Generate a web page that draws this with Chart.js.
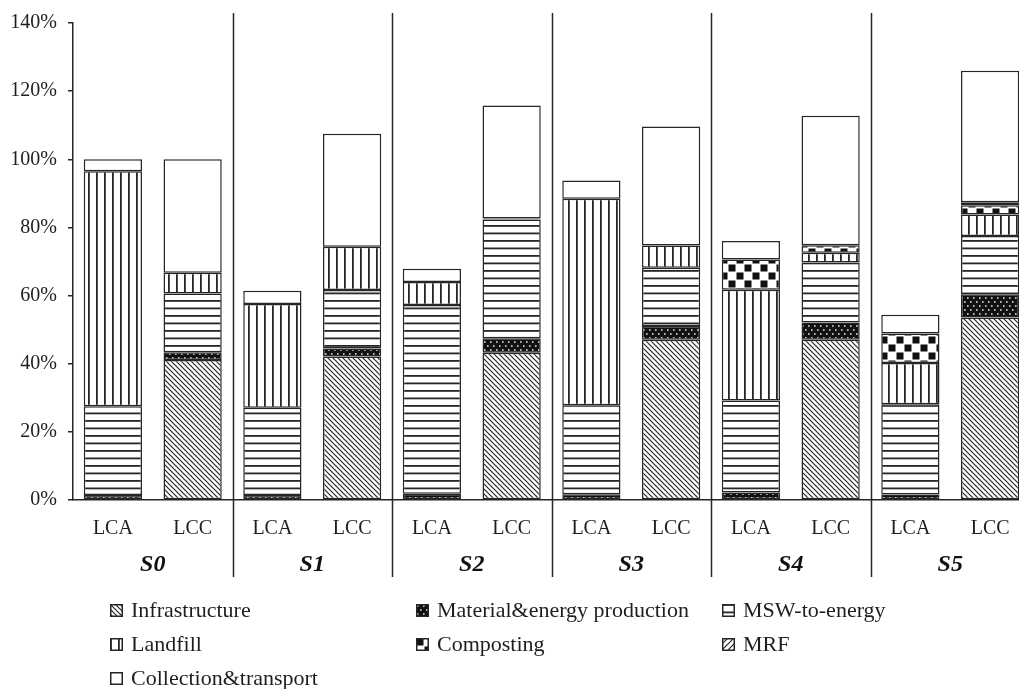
<!DOCTYPE html>
<html>
<head>
<meta charset="utf-8">
<title>LCA / LCC by scenario</title>
<script src="https://cdn.jsdelivr.net/npm/chart.js@4.4.1/dist/chart.umd.min.js"></script>
<style>
  html, body { margin: 0; padding: 0; background: #fff; overflow: hidden; }
  #wrap { position: absolute; left: 0; top: 0; width: 1030px; height: 689px; }
  .leg { position: absolute; display: flex; align-items: center; height: 24px;
         font: 22px "Liberation Serif", "Times New Roman", serif; color: #1e1e1e; white-space: nowrap; }
  .leg canvas { margin-right: 8px; }
</style>
</head>
<body>
<div id="wrap"><canvas id="chart" width="1030" height="689"></canvas></div>
<div id="legend"></div>
<script>
// ── Data (values in % of S0) ──
const categories = ['LCA', 'LCC', 'LCA', 'LCC', 'LCA', 'LCC', 'LCA', 'LCC', 'LCA', 'LCC', 'LCA', 'LCC'];
const groups = ['S0', 'S1', 'S2', 'S3', 'S4', 'S5'];
const yTicks = [0, 20, 40, 60, 80, 100, 120, 140];

const seriesNames = ['Infrastructure', 'Material&energy production', 'MSW-to-energy',
  'Landfill', 'Composting', 'MRF', 'Collection&transport'];

const infrastructure = [0, 41.1, 0, 42.1, 0, 43.2, 0, 47.0, 0, 47.0, 0, 53.6];
const materialEnergy = [1.5, 2.3, 1.5, 2.4, 1.8, 4.3, 1.7, 4.1, 2.2, 5.1, 1.6, 6.8];
const mswToEnergy    = [26.0, 17.2, 25.6, 17.1, 55.4, 34.8, 26.1, 17.1, 27.0, 17.6, 26.5, 17.1];
const landfill       = [69.0, 6.1, 30.4, 12.7, 6.8, 0.3, 60.6, 6.5, 32.5, 2.9, 12.1, 6.3];
const composting     = [0, 0, 0, 0, 0, 0, 0, 0, 8.9, 2.2, 8.7, 2.7];
const mrf            = [0, 0, 0, 0, 0, 0, 0, 0, 0, 0, 0, 0.9];
const collection     = [3.5, 33.3, 3.9, 33.2, 3.9, 33.2, 5.4, 34.9, 5.4, 38.0, 5.5, 38.6];

const seriesValues = [infrastructure, materialEnergy, mswToEnergy, landfill, composting, mrf, collection];

// ── Pattern tiles (black & white hatching) ──
const INK = '#262626';

function makeTile(w, h, draw) {
  const c = document.createElement('canvas');
  c.width = w; c.height = h;
  const g = c.getContext('2d');
  g.fillStyle = '#fff';
  g.fillRect(0, 0, w, h);
  draw(g, w, h);
  return c;
}

const tiles = [
  // Infrastructure: "\" hatching
  makeTile(5, 5, (g) => {
    g.strokeStyle = INK; g.lineWidth = 1.2;
    g.beginPath();
    g.moveTo(-5, 0); g.lineTo(5, 10);
    g.moveTo(0, 0); g.lineTo(5, 5);
    g.moveTo(0, -5); g.lineTo(10, 5);
    g.moveTo(-5, -5); g.lineTo(5, 5);
    g.stroke();
  }),
  // Material & energy: black with white dots
  makeTile(12, 8, (g) => {
    g.fillStyle = '#111'; g.fillRect(0, 0, 12, 8);
    g.fillStyle = '#ddd';
    [[1, 1.2], [7, 1.2], [4, 5.2], [10, 5.2]].forEach(([x, y]) => g.fillRect(x, y, 1.6, 1.6));
  }),
  // MSW-to-energy: horizontal lines
  makeTile(4, 15, (g) => {
    g.fillStyle = INK;
    g.fillRect(0, 0, 4, 1.8);
    g.fillRect(0, 7.5, 4, 1.8);
  }),
  // Landfill: vertical lines
  makeTile(8, 4, (g) => {
    g.fillStyle = INK;
    g.fillRect(0, 0, 1.8, 4);
  }),
  // Composting: checkerboard
  makeTile(16, 16, (g) => {
    g.fillStyle = '#111';
    g.fillRect(0.5, 0.5, 7, 7);
    g.fillRect(8.5, 8.5, 7, 7);
  }),
  // MRF: "/" hatching
  makeTile(6, 6, (g) => {
    g.strokeStyle = INK; g.lineWidth = 1.2;
    g.beginPath();
    g.moveTo(0, 6); g.lineTo(6, 0);
    g.moveTo(-6, 6); g.lineTo(6, -6);
    g.moveTo(0, 12); g.lineTo(12, 0);
    g.stroke();
  }),
  // Collection & transport: plain white
  makeTile(2, 2, () => {}),
];

const canvas = document.getElementById('chart');
const ctx = canvas.getContext('2d');
const patterns = tiles.map(t => ctx.createPattern(t, 'repeat'));

// ── Group separators + S0..S5 labels ──
const groupPlugin = {
  id: 'groupLabels',
  afterDraw(chart) {
    const { ctx: c, chartArea, scales: { x } } = chart;
    c.save();
    c.strokeStyle = INK;
    c.lineWidth = 1.5;
    for (let g = 1; g < groups.length; g++) {
      const px = Math.round((x.getPixelForValue(2 * g - 1) + x.getPixelForValue(2 * g)) / 2) + 0.5;
      c.beginPath();
      c.moveTo(px, chartArea.top - 10);
      c.lineTo(px, chartArea.bottom + 77);
      c.stroke();
    }
    c.font = 'bold italic 24px "Liberation Serif"';
    c.fillStyle = '#111';
    c.textAlign = 'center';
    c.textBaseline = 'middle';
    groups.forEach((s, g) => {
      const px = (x.getPixelForValue(2 * g) + x.getPixelForValue(2 * g + 1)) / 2;
      c.fillText(s, px, chartArea.bottom + 65);
    });
    c.restore();
  }
};

// ── Chart ──
new Chart(ctx, {
  type: 'bar',
  data: {
    labels: categories,
    datasets: seriesNames.map((name, i) => ({
      label: name,
      data: seriesValues[i],
      backgroundColor: patterns[i],
      borderColor: INK,
      borderWidth: 1.5,
      borderSkipped: false,
      barPercentage: 0.73,
      categoryPercentage: 1,
    })),
  },
  options: {
    responsive: false,
    animation: false,
    devicePixelRatio: 1,
    layout: { padding: { top: 21, right: 0, bottom: 0, left: 0 } },
    plugins: { legend: { display: false }, tooltip: { enabled: false } },
    scales: {
      x: {
        stacked: true,
        grid: { display: false, drawTicks: false },
        border: { display: true, color: INK, width: 1.5 },
        ticks: { color: '#1e1e1e', padding: 17, font: { family: 'Liberation Serif', size: 20 } },
        afterFit: (s) => { s.height = 189; },
      },
      y: {
        stacked: true,
        min: 0,
        max: 140,
        afterBuildTicks: (s) => { s.ticks = yTicks.map(v => ({ value: v })); },
        grid: { drawOnChartArea: false, tickLength: 5, color: INK, lineWidth: 1.5 },
        border: { display: true, color: INK, width: 1.5 },
        ticks: {
          color: '#1e1e1e', padding: 11,
          font: { family: 'Liberation Serif', size: 20 },
          callback: (v) => v + '%',
        },
        afterFit: (s) => { s.width = 73; },
      },
    },
  },
  plugins: [groupPlugin],
});

// ── HTML legend (3 columns) ──
const legendCols = [110, 416, 722];
const legendRows = [610, 644, 678];
const legendEl = document.getElementById('legend');
seriesNames.forEach((name, i) => {
  const item = document.createElement('div');
  item.className = 'leg';
  item.style.left = legendCols[i % 3] + 'px';
  item.style.top = (legendRows[Math.floor(i / 3)] - 12) + 'px';
  const sw = document.createElement('canvas');
  sw.width = 13; sw.height = 13;
  const sc = sw.getContext('2d');
  sc.fillStyle = sc.createPattern(tiles[i], 'repeat');
  sc.fillRect(0, 0, 13, 13);
  sc.strokeStyle = INK; sc.lineWidth = 1.5;
  sc.strokeRect(0.75, 0.75, 11.5, 11.5);
  const txt = document.createElement('span');
  txt.textContent = name;
  item.appendChild(sw);
  item.appendChild(txt);
  legendEl.appendChild(item);
});
</script>
</body>
</html>
